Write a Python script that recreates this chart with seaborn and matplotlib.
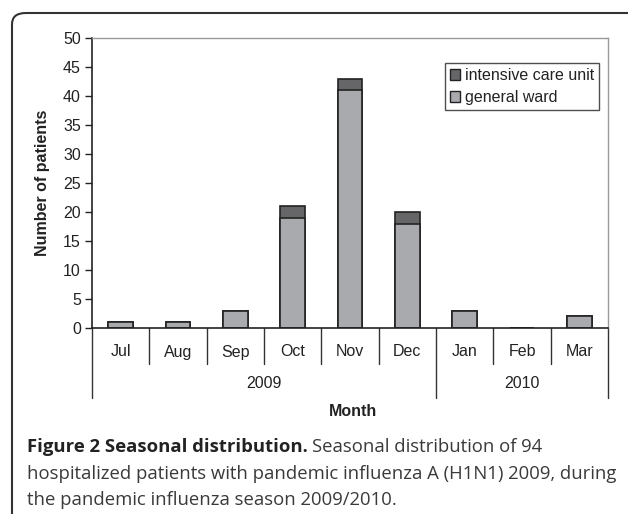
import numpy as np
import pandas as pd
import seaborn as sns
import matplotlib.pyplot as plt
from matplotlib.patches import FancyBboxPatch, Patch
import matplotlib.transforms as mtransforms

months = ['Jul', 'Aug', 'Sep', 'Oct', 'Nov', 'Dec', 'Jan', 'Feb', 'Mar']
years = ['2009', '2010']
year_span = [6, 3]  # months per year
general_ward = [1, 1, 3, 19, 41, 18, 3, 0, 2]
icu = [0, 0, 0, 2, 2, 2, 0, 0, 0]

sns.set_style('white')
plt.rcParams['font.family'] = ['Liberation Sans', 'DejaVu Sans']

df = pd.DataFrame({'month': months, 'ward': general_ward, 'icu': icu})
df['total'] = df['ward'] + df['icu']

light = '#a9aaad'
dark = '#666669'
edge = '#222222'
fs = 11.5

fig = plt.figure(figsize=(6.28, 5.14), dpi=100)
ax = fig.add_axes([92/628, 1-328/514, (608-92)/628, (328-38)/514])

# total first (dark = icu on top), then ward over it
sns.barplot(data=df, x='month', y='total', order=months, color=dark, saturation=1,
            width=0.43, edgecolor=edge, linewidth=1.2, ax=ax)
sns.barplot(data=df, x='month', y='ward', order=months, color=light, saturation=1,
            width=0.43, edgecolor=edge, linewidth=1.2, ax=ax)

ax.set_xlim(-0.5, len(months) - 0.5)
ax.set_ylim(0, 50)
ax.set_yticks(np.arange(0, 51, 5))
ax.tick_params(axis='y', direction='out', length=5, width=1, color='#222', labelsize=fs,
               left=True, pad=3, labelcolor='#222')
ax.set_xticks([])
ax.set_xlabel('')
ax.set_ylabel('')
for s in ['top', 'right']:
    ax.spines[s].set_color('#999999')
    ax.spines[s].set_linewidth(1)
for s in ['left', 'bottom']:
    ax.spines[s].set_color('#222222')
    ax.spines[s].set_linewidth(1.2)

fig.text(43/628, 1 - 183/514, 'Number of patients', rotation=90, ha='center', va='center',
         fontsize=fs, fontweight='bold', color='#222')

# hierarchical x axis
trans = mtransforms.blended_transform_factory(ax.transData, ax.transAxes)
h = (328 - 38)  # axes height in px
def py(px):
    return -px / h

for i, m in enumerate(months):
    ax.text(i, py(24), m, transform=trans, ha='center', va='center', fontsize=fs, color='#222')
bounds = np.cumsum([0] + year_span)
for b in range(1, len(months)):
    if b in bounds:
        continue
    ax.plot([b - 0.5, b - 0.5], [0, py(36)], transform=trans, color='#333', lw=1, clip_on=False)
for b in bounds:
    ax.plot([b - 0.5, b - 0.5], [0, py(70)], transform=trans, color='#333', lw=1, clip_on=False)
for j, y in enumerate(years):
    c = (bounds[j] + bounds[j + 1]) / 2 - 0.5
    ax.text(c, py(56), y, transform=trans, ha='center', va='center', fontsize=fs, color='#222')
fig.text(353/628, 1 - 411/514, 'Month', ha='center', va='center',
         fontsize=fs, fontweight='bold', color='#222')

handles = [Patch(facecolor=dark, edgecolor=edge, label='intensive care unit'),
           Patch(facecolor=light, edgecolor=edge, label='general ward')]
leg = ax.legend(handles=handles, loc='upper right', bbox_to_anchor=(0.9826, 0.9138),
                fontsize=fs, frameon=True, fancybox=False, handlelength=0.65,
                handleheight=0.65, handletextpad=0.3, borderpad=0.3, labelspacing=0.45,
                borderaxespad=0)
leg.get_frame().set_edgecolor('#222')
leg.get_frame().set_linewidth(1)
for t in leg.get_texts():
    t.set_color('#222')

# outer rounded frame
frame = FancyBboxPatch((12/628, -0.1), 1.2, 1 - 13/514 + 0.1,
                       boxstyle='round,pad=0,rounding_size=0.022',
                       transform=fig.transFigure, fill=False, edgecolor='#333', lw=1.5)
fig.patches.append(frame)

# caption
cap_font = ['Open Sans', 'DejaVu Sans']
cap_fs = 13.3
fig.canvas.draw()
r = fig.canvas.get_renderer()
t1 = fig.text(27/628, 1 - 447/514, 'Figure 2 Seasonal distribution.', family=cap_font,
              fontweight='bold', fontsize=cap_fs, va='center', ha='left', color='#222')
bb = t1.get_window_extent(renderer=r)
fig.text(bb.x1 / fig.bbox.width + 4/628, 1 - 447/514, 'Seasonal distribution of 94',
         family=cap_font, fontsize=cap_fs, va='center', ha='left', color='#3a3a3a')
fig.text(27/628, 1 - 474/514, 'hospitalized patients with pandemic influenza A (H1N1) 2009, during',
         family=cap_font, fontsize=cap_fs, va='center', ha='left', color='#3a3a3a')
fig.text(27/628, 1 - 500/514, 'the pandemic influenza season 2009/2010.',
         family=cap_font, fontsize=cap_fs, va='center', ha='left', color='#3a3a3a')

fig.savefig('out.png', dpi=100)
